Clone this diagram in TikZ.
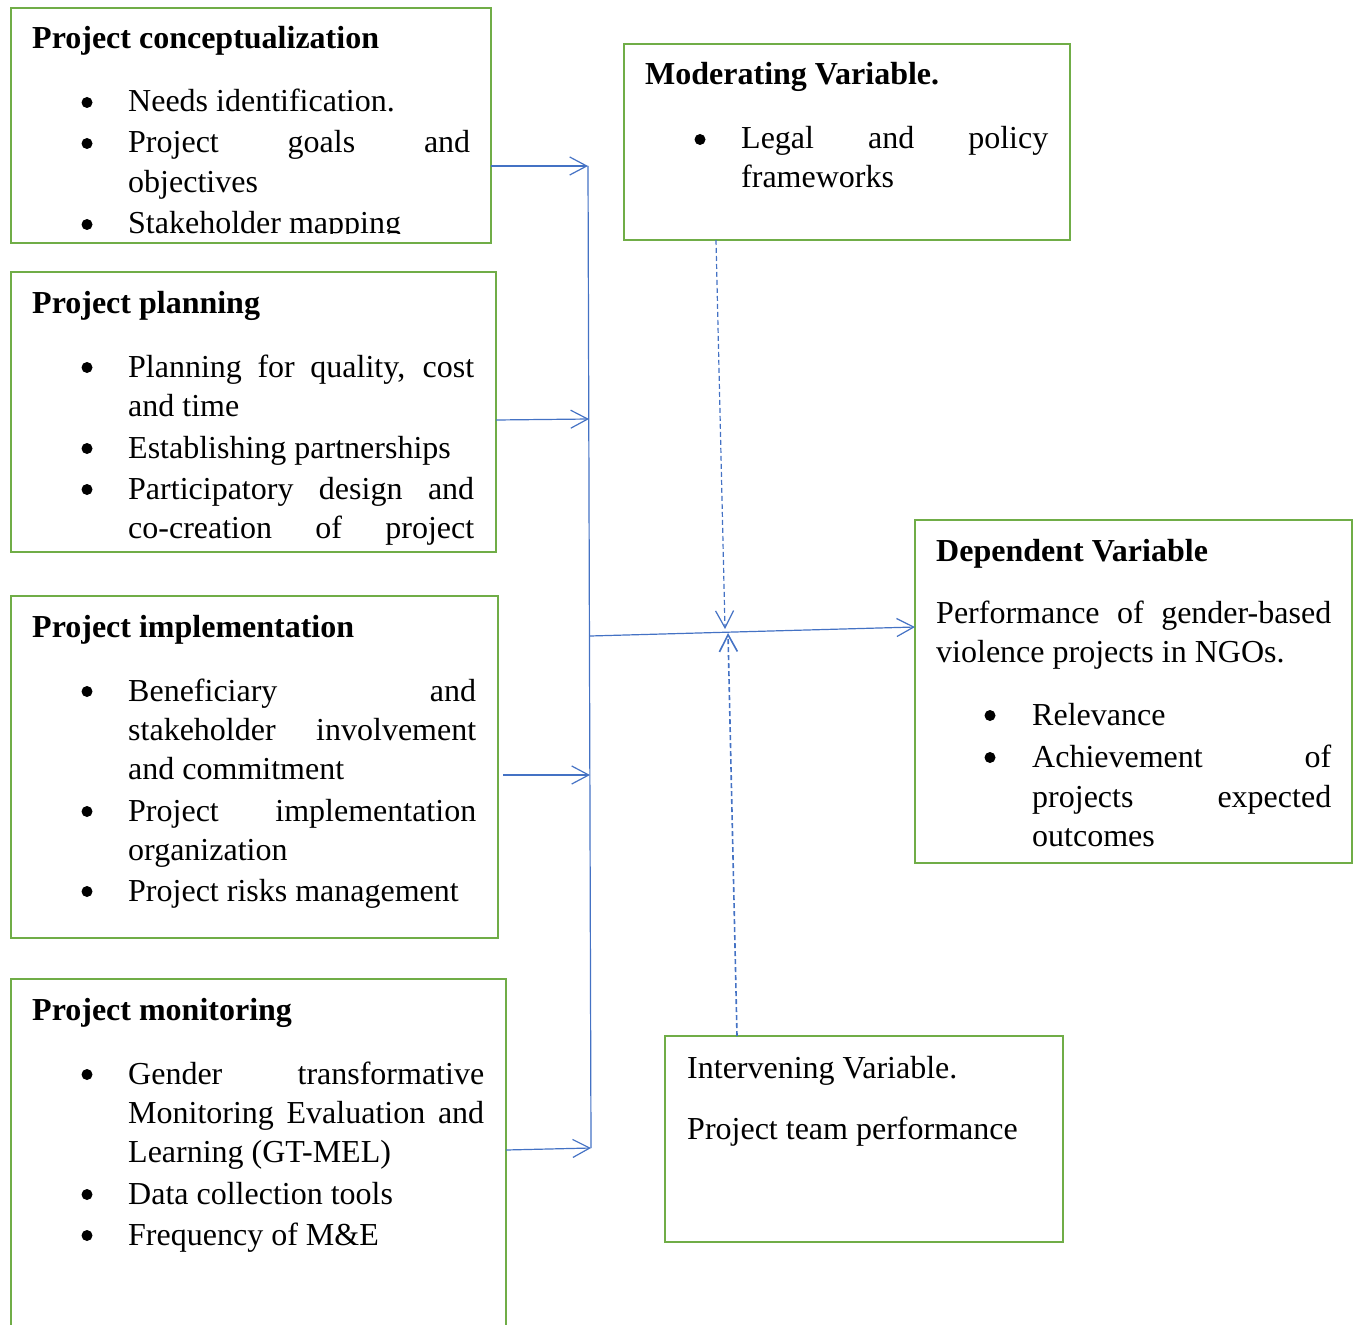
\documentclass[tikz,border=0pt]{standalone}
\usepackage{fontspec}
\setmainfont{Liberation Serif}
\usetikzlibrary{arrows.meta}
\definecolor{boxgreen}{HTML}{70AD47}
\definecolor{linkblue}{HTML}{4472C4}
\begin{document}
\begin{tikzpicture}[x=1pt,y=-1pt,
 box/.style={draw=boxgreen,line width=2.4pt,anchor=north west,inner sep=0pt,outer sep=0pt},
 txt/.style={anchor=base west,inner sep=0pt,font=\fontsize{32}{38}\selectfont},
 ttl/.style={anchor=base west,inner sep=0pt,font=\fontsize{32}{38}\selectfont\bfseries},
 bul/.style={circle,fill=black,inner sep=0pt,minimum size=11pt,yshift=9.5pt},
 link/.style={draw=linkblue,line width=1.2pt},
 arr/.style={link,-{Straight Barb[length=17pt,width=18pt]}},
 darr/.style={arr,dash pattern=on 5pt off 3pt}]
\useasboundingbox (0,0) rectangle (1356,1324);
\clip (0,0) rectangle (1356,1324);
% boxes
\node[box,minimum width=480,minimum height=235] (concept) at (11,8) {};
\node[box,minimum width=485,minimum height=280] (plan) at (11,272) {};
\node[box,minimum width=487,minimum height=342] (impl) at (11,596) {};
\node[box,minimum width=495,minimum height=400] (mon) at (11,979) {};
\node[box,minimum width=446,minimum height=196] (mod) at (624,44) {};
\node[box,minimum width=437,minimum height=343] (dep) at (915,520) {};
\node[box,minimum width=398,minimum height=206] (intv) at (665,1036) {};
% conceptualization
\node[ttl] (c0) at (32,49) {Project conceptualization};
\begin{scope}
\clip (11,8) rectangle (491,234);
\node[bul] (cb1) at (87,112) {};
\node[txt] (c1) at (128,112) {Needs identification.};
\node[bul] (cb2) at (87,153) {};
\node[txt] (c2) at (128,153) {\makebox[342pt][s]{Project goals and}};
\node[txt] (c3) at (128,193) {objectives};
\node[bul] (cb4) at (87,234) {};
\node[txt] (c4) at (128,234) {Stakeholder mapping};
\end{scope}
% planning
\node[ttl] (p0) at (32,313) {Project planning};
\node[bul] (pb1) at (87,377) {};
\node[txt] (p1) at (128,377) {\makebox[346pt][s]{Planning for quality, cost}};
\node[txt] (p2) at (128,416) {and time};
\node[bul] (pb3) at (87,458) {};
\node[txt] (p3) at (128,458) {Establishing partnerships};
\node[bul] (pb4) at (87,499) {};
\node[txt] (p4) at (128,499) {\makebox[346pt][s]{Participatory design and}};
\node[txt] (p5) at (128,538) {\makebox[346pt][s]{co-creation of project}};
% implementation
\node[ttl] (i0) at (32,637) {Project implementation};
\node[bul] (ib1) at (87,701) {};
\node[txt] (i1) at (128,701) {\makebox[348pt][s]{Beneficiary and}};
\node[txt] (i2) at (128,740) {\makebox[348pt][s]{stakeholder involvement}};
\node[txt] (i3) at (128,779) {and commitment};
\node[bul] (ib4) at (87,821) {};
\node[txt] (i4) at (128,821) {\makebox[348pt][s]{Project implementation}};
\node[txt] (i5) at (128,860) {organization};
\node[bul] (ib6) at (87,901) {};
\node[txt] (i6) at (128,901) {Project risks management};
% monitoring
\node[ttl] (m0) at (32,1020) {Project monitoring};
\node[bul] (mb1) at (87,1084) {};
\node[txt] (m1) at (128,1084) {\makebox[356pt][s]{Gender transformative}};
\node[txt] (m2) at (128,1123) {\makebox[356pt][s]{Monitoring Evaluation and}};
\node[txt] (m3) at (128,1162) {Learning (GT-MEL)};
\node[bul] (mb4) at (87,1204) {};
\node[txt] (m4) at (128,1204) {Data collection tools};
\node[bul] (mb5) at (87,1245) {};
\node[txt] (m5) at (128,1245) {Frequency of M\&E};
% moderating
\node[ttl] (o0) at (645,85) {Moderating Variable.};
\node[bul] (ob1) at (700,149) {};
\node[txt] (o1) at (741,149) {\makebox[307pt][s]{Legal and policy}};
\node[txt] (o2) at (741,188) {frameworks};
% dependent
\node[ttl] (d0) at (936,561) {Dependent Variable};
\node[txt] (d1) at (936,623) {\makebox[395pt][s]{Performance of gender-based}};
\node[txt] (d2) at (936,662) {violence projects in NGOs.};
\node[bul] (db3) at (990,725) {};
\node[txt] (d3) at (1032,725) {Relevance};
\node[bul] (db4) at (990,767) {};
\node[txt] (d4) at (1032,767) {\makebox[299pt][s]{Achievement of}};
\node[txt] (d5) at (1032,807) {\makebox[299pt][s]{projects expected}};
\node[txt] (d6) at (1032,846) {outcomes};
% intervening
\node[txt] (v1) at (687,1078) {Intervening Variable.};
\node[txt] (v2) at (687,1139) {Project team performance};
% connectors
\coordinate (j1) at (588,166);
\coordinate (j2) at (589,419);
\coordinate (j3) at (590,775);
\coordinate (j4) at (591,1148);
\coordinate (jm) at (590,636);
\coordinate (mt) at (725,629);
\coordinate (it) at (728,633);
\draw[link] (j1) -- (j4);
\draw[arr] (concept.east |- j1) -- (j1);
\draw[arr] ([yshift=-1]plan.east |- j2) -- (j2);
\draw[arr] ([xshift=5]impl.east |- j3) -- (j3);
\draw[arr] ([yshift=-2]mon.east |- j4) -- (j4);
\draw[arr] (jm) -- ([yshift=64.5]dep.west);
\draw[darr] ([xshift=-131]mod.south) -- (mt);
\draw[darr,line width=1.6pt] ([xshift=-127]intv.north) -- (it);
\end{tikzpicture}
\end{document}
